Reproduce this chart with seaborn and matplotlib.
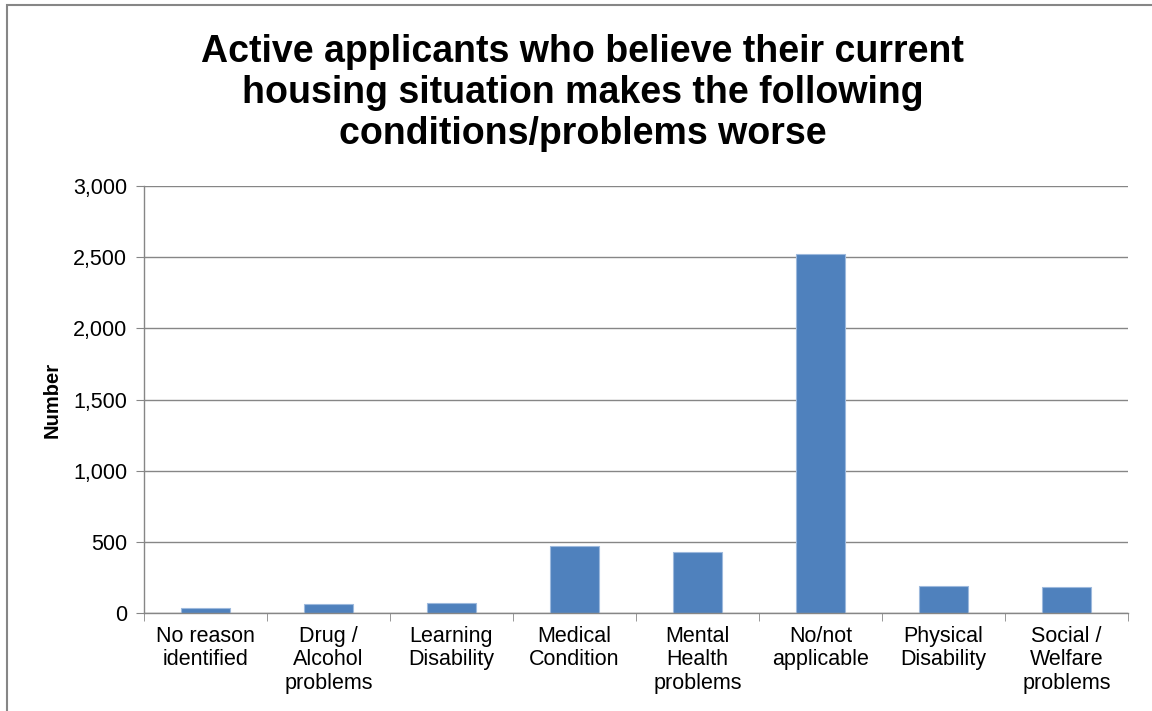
import numpy as np
import pandas as pd
import matplotlib
matplotlib.use("Agg")
import matplotlib.pyplot as plt
import seaborn as sns
from matplotlib.patches import Rectangle
from matplotlib.ticker import FuncFormatter, FixedLocator

sns.set_style("white")
plt.rcParams['font.family'] = ['Liberation Sans', 'DejaVu Sans']
plt.rcParams['text.color'] = 'black'
plt.rcParams['xtick.color'] = 'black'
plt.rcParams['ytick.color'] = 'black'
plt.rcParams['axes.labelcolor'] = 'black'

# data
categories = ["No reason\nidentified", "Drug /\nAlcohol\nproblems", "Learning\nDisability",
              "Medical\nCondition", "Mental\nHealth\nproblems", "No/not\napplicable",
              "Physical\nDisability", "Social /\nWelfare\nproblems"]
values = [35, 63, 72, 470, 430, 2522, 190, 185]

df = pd.DataFrame({"category": categories, "number": values})

fig = plt.figure(figsize=(11.52, 7.11), dpi=100)
ax = fig.add_axes([0.125, 0.1378, 0.854, 0.6006])

sns.barplot(data=df, x="category", y="number", color="#4F81BD", width=0.4,
            edgecolor="#9DB9DD", linewidth=0.8, saturation=1, ax=ax)

ax.set_ylim(0, 3000)
ax.set_xlim(-0.5, len(categories) - 0.5)
ax.set_yticks(np.arange(0, 3001, 500))
ax.yaxis.set_major_formatter(FuncFormatter(lambda v, p: f"{int(v):,}"))
ax.grid(axis="y", color="#868686", linewidth=1)
ax.set_axisbelow(True)

for s in ["top", "right"]:
    ax.spines[s].set_visible(False)
for s in ["left", "bottom"]:
    ax.spines[s].set_color("#868686")
    ax.spines[s].set_linewidth(1)

ax.tick_params(axis="y", left=True, length=6, color="#868686", labelcolor="black",
               labelsize=15.5, pad=6)
ax.tick_params(axis="x", which="major", length=0, labelsize=15.5, labelcolor="black", pad=9)
for lab in ax.get_xticklabels():
    lab.set_linespacing(1.18)
ax.xaxis.set_minor_locator(FixedLocator(np.arange(-0.5, len(categories), 1)))
ax.tick_params(axis="x", which="minor", bottom=True, length=6, color="#868686")

ax.set_xlabel("")
ax.set_ylabel("Number", fontsize=14.5, fontweight="bold", labelpad=8)

fig.text(0.506, 0.952, "Active applicants who believe their current\nhousing situation makes the following\nconditions/problems worse",
         ha="center", va="top", fontsize=27, fontweight="bold", linespacing=1.17, color="black")

# outer chart border
fig.patches.append(Rectangle((7 / 1152, -0.1), 1.2, 0.1 + 1 - 5 / 711, transform=fig.transFigure,
                             fill=False, edgecolor="#868686", linewidth=1.5))

fig.savefig("out.png", dpi=100)
